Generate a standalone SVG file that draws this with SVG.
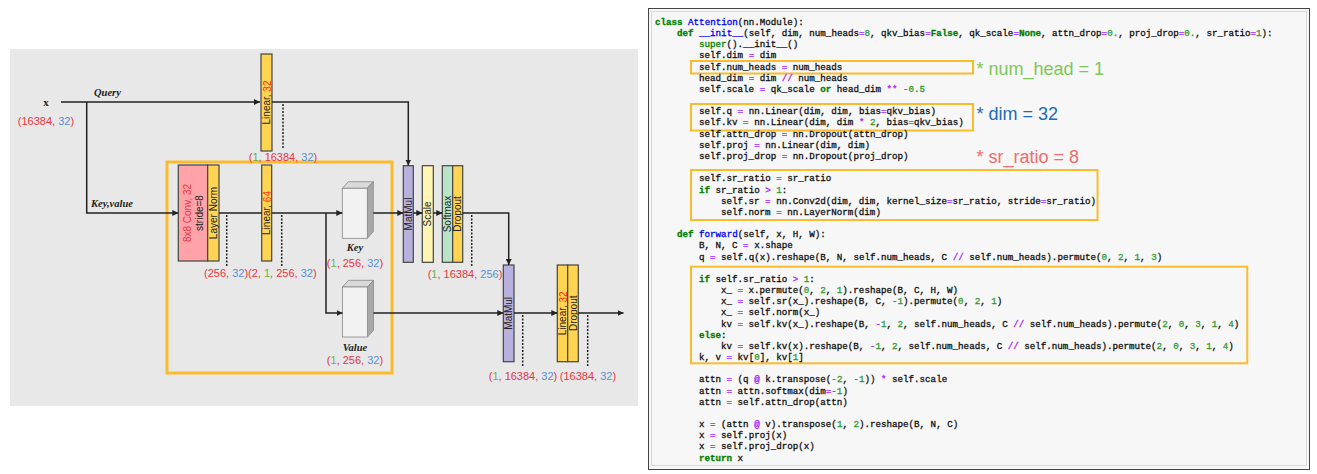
<svg xmlns="http://www.w3.org/2000/svg" width="1317" height="474" viewBox="0 0 1317 474">
<style>
.lbl{font-family:"Liberation Sans",Arial,sans-serif;font-size:11px}
.r{fill:#e8343f}.b{fill:#5a8ed6}.g{fill:#6db33f}
.it{font-family:"Liberation Serif","Times New Roman",serif;font-size:10.5px;font-weight:bold;font-style:italic;fill:#222}
.vt{font-family:"Liberation Sans",Arial,sans-serif;font-size:10px;fill:#222;text-anchor:middle;dominant-baseline:central}
.box{stroke:#444;stroke-width:1.2}
.yel{fill:#ffd452}.pink{fill:#ffa3a8}.pur{fill:#b8b0dd}.lyel{fill:#fff6b4}.grn{fill:#b8e4c8}
.conn path{fill:none;stroke:#222;stroke-width:1.5}
.dot{fill:none;stroke:#555;stroke-width:1.3;stroke-dasharray:2 1.5}
.code{font-family:"Liberation Mono","Courier New",monospace;font-size:9.2px;fill:#111;stroke:#111;stroke-width:0.3;white-space:pre}
.k{fill:#008000;stroke:#008000;font-weight:bold}.bi{fill:#008000;stroke:#008000}.f{fill:#0000ff;stroke:#0000ff}.o{fill:#aa22ff;stroke:#aa22ff}.n{fill:#2e9a2e;stroke:#2e9a2e}
.hl{fill:none;stroke:#fbbc2c;stroke-width:2}
.ann{font-family:"Liberation Sans",Arial,sans-serif;font-size:18px}
</style>
<defs>
<marker id="ah" viewBox="0 0 6 6" refX="6" refY="3" markerWidth="6" markerHeight="6" markerUnits="userSpaceOnUse" orient="auto">
<path d="M0,0 L6,3 L0,6 z" fill="#222"/>
</marker>
</defs>
<rect width="1317" height="474" fill="#ffffff"/>
<rect x="10" y="49" width="628" height="357" fill="#e8e8e8"/>

<g id="input">
<text x="46" y="106" text-anchor="middle" style="font-family:'Liberation Serif',serif;font-size:11px;font-weight:bold;fill:#222">x</text>
<text x="46" y="125" text-anchor="middle" class="lbl"><tspan class="r">(16384, </tspan><tspan class="b">32</tspan><tspan class="r">)</tspan></text>
<text x="94" y="96" class="it">Query</text>
<text x="91" y="207" class="it">Key,value</text>
</g>

<g id="sr-block">
<rect x="167" y="162" width="225" height="211" fill="none" stroke="#fbbc2c" stroke-width="3"/>
</g>

<g id="linear-q">
<rect class="box yel" x="261" y="54" width="11" height="97"/>
<text class="vt" transform="translate(266.5,102.5) rotate(-90)">Linear, <tspan fill="#ff2a1a">32</tspan></text>
<text x="283" y="160.5" text-anchor="middle" class="lbl"><tspan class="r">(</tspan><tspan class="g">1</tspan><tspan class="r">, 16384, </tspan><tspan class="b">32</tspan><tspan class="r">)</tspan></text>
</g>

<g id="conv">
<rect class="box pink" x="178.3" y="165" width="29.4" height="96"/>
<text class="vt" transform="translate(187,213) rotate(-90)" style="fill:#e8343f">8x8 Conv, 32</text>
<text class="vt" transform="translate(199,213) rotate(-90)">stride=8</text>
</g>

<g id="layernorm">
<rect class="box yel" x="207.7" y="165" width="11.3" height="96"/>
<text class="vt" transform="translate(213.4,213) rotate(-90)">Layer Norm</text>
</g>

<g id="linear-kv">
<rect class="box yel" x="261.7" y="165" width="10" height="96"/>
<text class="vt" transform="translate(266.7,213) rotate(-90)">Linear, <tspan fill="#ff3c1a">64</tspan></text>
<text x="204" y="277" class="lbl"><tspan class="r">(256, </tspan><tspan class="b">32</tspan><tspan class="r">)(2, </tspan><tspan class="g">1</tspan><tspan class="r">, 256, </tspan><tspan class="b">32</tspan><tspan class="r">)</tspan></text>
</g>

<g id="key">
<polygon points="342.3,188.3 348.3,181.7 373.3,181.7 367.3,188.3" fill="#d9d9d9" stroke="#888" stroke-width="0.8"/>
<polygon points="367.3,188.3 373.3,181.7 373.3,231.7 367.3,238.3" fill="#a8a8a8" stroke="#888" stroke-width="0.8"/>
<rect x="342.3" y="188.3" width="25" height="50" fill="#f2f2f2" stroke="#888" stroke-width="0.8"/>
<text x="355" y="251" text-anchor="middle" class="it">Key</text>
<text x="355" y="266.5" text-anchor="middle" class="lbl"><tspan class="r">(</tspan><tspan class="g">1</tspan><tspan class="r">, 256, </tspan><tspan class="b">32</tspan><tspan class="r">)</tspan></text>
</g>

<g id="value">
<polygon points="342.5,287 348.5,280.3 373.5,280.3 367.5,287" fill="#d9d9d9" stroke="#888" stroke-width="0.8"/>
<polygon points="367.5,287 373.5,280.3 373.5,330.3 367.5,337" fill="#a8a8a8" stroke="#888" stroke-width="0.8"/>
<rect x="342.5" y="287" width="25" height="50" fill="#f2f2f2" stroke="#888" stroke-width="0.8"/>
<text x="355" y="350.5" text-anchor="middle" class="it">Value</text>
<text x="355" y="364" text-anchor="middle" class="lbl"><tspan class="r">(</tspan><tspan class="g">1</tspan><tspan class="r">, 256, </tspan><tspan class="b">32</tspan><tspan class="r">)</tspan></text>
</g>

<g id="matmul1">
<rect class="box pur" x="403.3" y="165.7" width="10" height="96.6"/>
<text class="vt" transform="translate(408.3,214) rotate(-90)">MatMul</text>
</g>

<g id="scale">
<rect class="box lyel" x="422.3" y="165.7" width="11" height="96.6"/>
<text class="vt" transform="translate(427.8,214) rotate(-90)">Scale</text>
</g>

<g id="softmax-dropout">
<rect class="box grn" x="442.3" y="165.7" width="10.4" height="96.6"/>
<text class="vt" transform="translate(447.5,214) rotate(-90)">Softmax</text>
<rect class="box yel" x="452.7" y="165.7" width="10" height="96.6"/>
<text class="vt" transform="translate(457.7,214) rotate(-90)">Dropout</text>
<text x="465" y="278" text-anchor="middle" class="lbl"><tspan class="r">(</tspan><tspan class="g">1</tspan><tspan class="r">, 16384, </tspan><tspan class="b">256</tspan><tspan class="r">)</tspan></text>
</g>

<g id="matmul2">
<rect class="box pur" x="503.3" y="265" width="10.7" height="96.7"/>
<text class="vt" transform="translate(508.7,313.3) rotate(-90)">MatMul</text>
<text x="523" y="379.5" text-anchor="middle" class="lbl"><tspan class="r">(</tspan><tspan class="g">1</tspan><tspan class="r">, 16384, </tspan><tspan class="b">32</tspan><tspan class="r">)</tspan></text>
</g>

<g id="proj">
<rect class="box yel" x="557.3" y="265" width="10.4" height="96.7"/>
<text class="vt" transform="translate(562.5,313.3) rotate(-90)">Linear, <tspan fill="#ff2a1a">32</tspan></text>
<rect class="box yel" x="567.7" y="265" width="10.6" height="96.7"/>
<text class="vt" transform="translate(573,313.3) rotate(-90)">Dropout</text>
<text x="588" y="379.5" text-anchor="middle" class="lbl"><tspan class="r">(16384, </tspan><tspan class="b">32</tspan><tspan class="r">)</tspan></text>
</g>

<g class="conn" id="connectors">
<path d="M61,102 H260" marker-end="url(#ah)"/>
<path d="M272,102 H408.3 V165.5" marker-end="url(#ah)"/>
<path d="M86.7,102 V213 H178.3" marker-end="url(#ah)"/>
<path d="M219,213 H261.7"/>
<path d="M271.7,213 H342.3" marker-end="url(#ah)"/>
<path d="M326,213 V313 H342.5" marker-end="url(#ah)"/>
<path d="M373.3,213 H403.3" marker-end="url(#ah)"/>
<path d="M413.3,213 H422.3" marker-end="url(#ah)"/>
<path d="M433.3,213 H442.3" marker-end="url(#ah)"/>
<path d="M462.7,213 H508.7 V265" marker-end="url(#ah)"/>
<path d="M373.5,313 H503.3" marker-end="url(#ah)"/>
<path d="M514,313 H557.3" marker-end="url(#ah)"/>
<path d="M578.3,313 H623.5" marker-end="url(#ah)"/>
<path class="dot" d="M283,104 V148"/>
<path class="dot" d="M226.7,215 V267"/>
<path class="dot" d="M281.7,215 V267"/>
<path class="dot" d="M471.7,215 V266"/>
<path class="dot" d="M522.7,315 V366"/>
<path class="dot" d="M587.7,315 V366"/>
</g>

<g id="code-panel">
<rect x="648.5" y="8.5" width="661" height="461" fill="#f7f7f7" stroke="#444" stroke-width="1"/>
<rect x="651.5" y="11.5" width="655" height="454" fill="none" stroke="#d8d8d8" stroke-width="1"/>
<rect class="hl" x="691" y="61" width="282" height="12.5"/>
<rect class="hl" x="691" y="104" width="282" height="26.5"/>
<rect class="hl" x="691" y="170" width="406.5" height="50"/>
<rect class="hl" x="691" y="266.7" width="556.3" height="96.6"/>
<text class="code" x="655" y="24.9"><tspan class="k">class</tspan> <tspan class="f">Attention</tspan>(nn.Module):</text>
<text class="code" x="677" y="36.1"><tspan class="k">def</tspan> <tspan class="f">__init__</tspan>(self, dim, num_heads<tspan class="o">=</tspan><tspan class="n">8</tspan>, qkv_bias<tspan class="o">=</tspan><tspan class="k">False</tspan>, qk_scale<tspan class="o">=</tspan><tspan class="k">None</tspan>, attn_drop<tspan class="o">=</tspan><tspan class="n">0.</tspan>, proj_drop<tspan class="o">=</tspan><tspan class="n">0.</tspan>, sr_ratio<tspan class="o">=</tspan><tspan class="n">1</tspan>):</text>
<text class="code" x="699" y="47.2"><tspan class="bi">super</tspan>().__init__()</text>
<text class="code" x="699" y="58.4">self.dim <tspan class="o">=</tspan> dim</text>
<text class="code" x="699" y="69.6">self.num_heads <tspan class="o">=</tspan> num_heads</text>
<text class="code" x="699" y="80.8">head_dim <tspan class="o">=</tspan> dim <tspan class="o">//</tspan> num_heads</text>
<text class="code" x="699" y="91.9">self.scale <tspan class="o">=</tspan> qk_scale <tspan class="k">or</tspan> head_dim <tspan class="o">**</tspan> <tspan class="o">-</tspan><tspan class="n">0.5</tspan></text>
<text class="code" x="699" y="114.3">self.q <tspan class="o">=</tspan> nn.Linear(dim, dim, bias<tspan class="o">=</tspan>qkv_bias)</text>
<text class="code" x="699" y="125.4">self.kv <tspan class="o">=</tspan> nn.Linear(dim, dim <tspan class="o">*</tspan> <tspan class="n">2</tspan>, bias<tspan class="o">=</tspan>qkv_bias)</text>
<text class="code" x="699" y="136.6">self.attn_drop <tspan class="o">=</tspan> nn.Dropout(attn_drop)</text>
<text class="code" x="699" y="147.8">self.proj <tspan class="o">=</tspan> nn.Linear(dim, dim)</text>
<text class="code" x="699" y="159.0">self.proj_drop <tspan class="o">=</tspan> nn.Dropout(proj_drop)</text>
<text class="code" x="699" y="181.3">self.sr_ratio <tspan class="o">=</tspan> sr_ratio</text>
<text class="code" x="699" y="192.5"><tspan class="k">if</tspan> sr_ratio <tspan class="o">&gt;</tspan> <tspan class="n">1</tspan>:</text>
<text class="code" x="721" y="203.6">self.sr <tspan class="o">=</tspan> nn.Conv2d(dim, dim, kernel_size<tspan class="o">=</tspan>sr_ratio, stride<tspan class="o">=</tspan>sr_ratio)</text>
<text class="code" x="721" y="214.8">self.norm <tspan class="o">=</tspan> nn.LayerNorm(dim)</text>
<text class="code" x="677" y="237.1"><tspan class="k">def</tspan> <tspan class="f">forward</tspan>(self, x, H, W):</text>
<text class="code" x="699" y="248.3">B, N, C <tspan class="o">=</tspan> x.shape</text>
<text class="code" x="699" y="259.5">q <tspan class="o">=</tspan> self.q(x).reshape(B, N, self.num_heads, C <tspan class="o">//</tspan> self.num_heads).permute(<tspan class="n">0</tspan>, <tspan class="n">2</tspan>, <tspan class="n">1</tspan>, <tspan class="n">3</tspan>)</text>
<text class="code" x="699" y="281.8"><tspan class="k">if</tspan> self.sr_ratio <tspan class="o">&gt;</tspan> <tspan class="n">1</tspan>:</text>
<text class="code" x="721" y="293.0">x_ <tspan class="o">=</tspan> x.permute(<tspan class="n">0</tspan>, <tspan class="n">2</tspan>, <tspan class="n">1</tspan>).reshape(B, C, H, W)</text>
<text class="code" x="721" y="304.2">x_ <tspan class="o">=</tspan> self.sr(x_).reshape(B, C, <tspan class="o">-</tspan><tspan class="n">1</tspan>).permute(<tspan class="n">0</tspan>, <tspan class="n">2</tspan>, <tspan class="n">1</tspan>)</text>
<text class="code" x="721" y="315.3">x_ <tspan class="o">=</tspan> self.norm(x_)</text>
<text class="code" x="721" y="326.5">kv <tspan class="o">=</tspan> self.kv(x_).reshape(B, <tspan class="o">-</tspan><tspan class="n">1</tspan>, <tspan class="n">2</tspan>, self.num_heads, C <tspan class="o">//</tspan> self.num_heads).permute(<tspan class="n">2</tspan>, <tspan class="n">0</tspan>, <tspan class="n">3</tspan>, <tspan class="n">1</tspan>, <tspan class="n">4</tspan>)</text>
<text class="code" x="699" y="337.7"><tspan class="k">else</tspan>:</text>
<text class="code" x="721" y="348.8">kv <tspan class="o">=</tspan> self.kv(x).reshape(B, <tspan class="o">-</tspan><tspan class="n">1</tspan>, <tspan class="n">2</tspan>, self.num_heads, C <tspan class="o">//</tspan> self.num_heads).permute(<tspan class="n">2</tspan>, <tspan class="n">0</tspan>, <tspan class="n">3</tspan>, <tspan class="n">1</tspan>, <tspan class="n">4</tspan>)</text>
<text class="code" x="699" y="360.0">k, v <tspan class="o">=</tspan> kv[<tspan class="n">0</tspan>], kv[<tspan class="n">1</tspan>]</text>
<text class="code" x="699" y="382.3">attn <tspan class="o">=</tspan> (q <tspan class="o">@</tspan> k.transpose(<tspan class="o">-</tspan><tspan class="n">2</tspan>, <tspan class="o">-</tspan><tspan class="n">1</tspan>)) <tspan class="o">*</tspan> self.scale</text>
<text class="code" x="699" y="393.5">attn <tspan class="o">=</tspan> attn.softmax(dim<tspan class="o">=-</tspan><tspan class="n">1</tspan>)</text>
<text class="code" x="699" y="404.7">attn <tspan class="o">=</tspan> self.attn_drop(attn)</text>
<text class="code" x="699" y="427.0">x <tspan class="o">=</tspan> (attn <tspan class="o">@</tspan> v).transpose(<tspan class="n">1</tspan>, <tspan class="n">2</tspan>).reshape(B, N, C)</text>
<text class="code" x="699" y="438.2">x <tspan class="o">=</tspan> self.proj(x)</text>
<text class="code" x="699" y="449.4">x <tspan class="o">=</tspan> self.proj_drop(x)</text>
<text class="code" x="699" y="460.6"><tspan class="k">return</tspan> x</text>
<text class="ann" x="976.5" y="74.5" fill="#7dc855">* num_head = 1</text>
<text class="ann" x="976.5" y="119.5" fill="#1a6ab8">* dim = 32</text>
<text class="ann" x="976.5" y="163" fill="#f46a6a">* sr_ratio = 8</text>
</g>
</svg>
